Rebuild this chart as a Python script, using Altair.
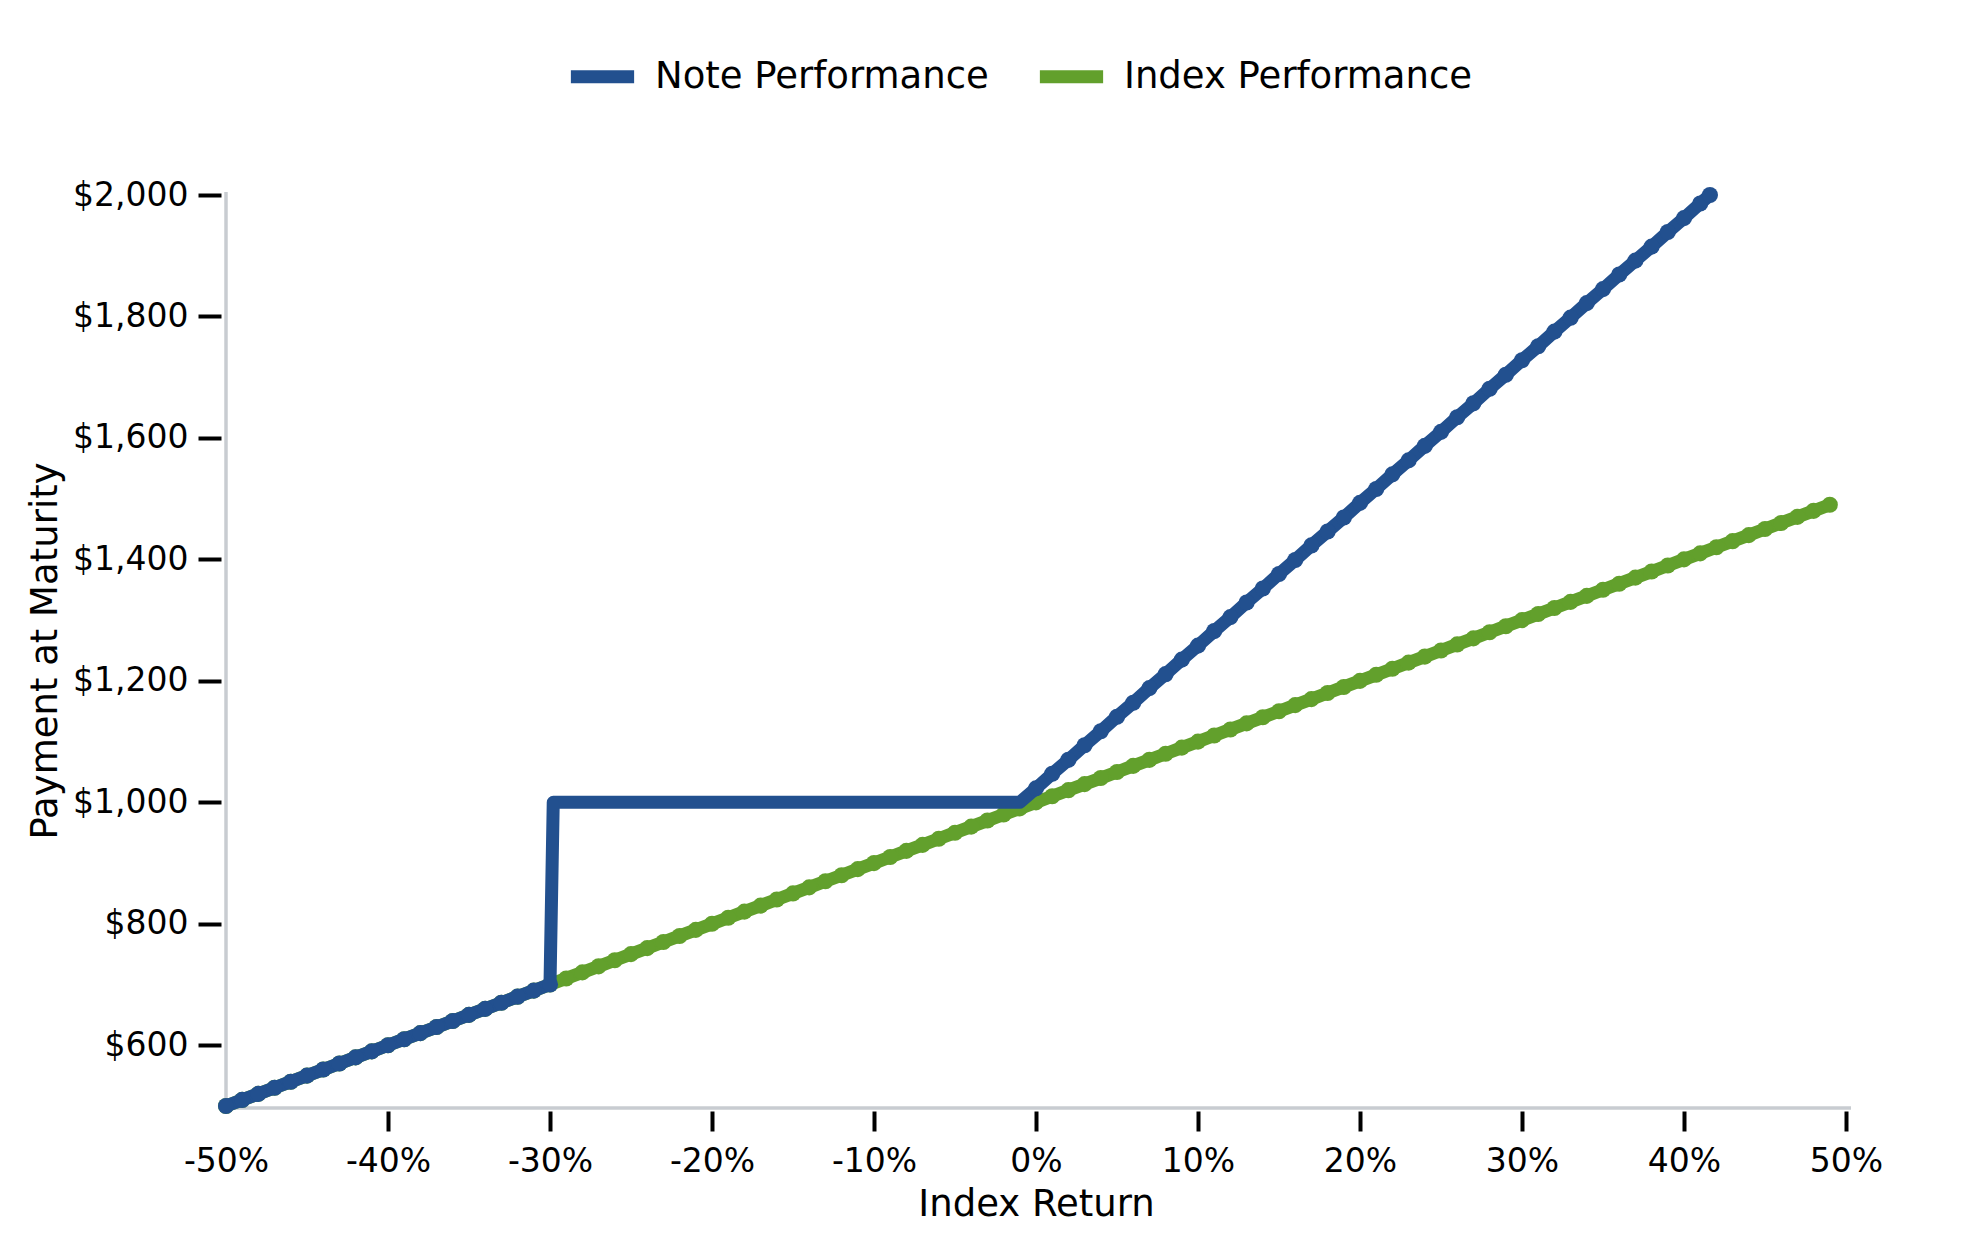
import altair as alt
import pandas as pd

# ---- data ----
index_x = [-50, -49, -48, -47, -46, -45, -44, -43, -42, -41, -40, -39, -38, -37, -36, -35, -34, -33, -32, -31,
           -30, -29, -28, -27, -26, -25, -24, -23, -22, -21, -20, -19, -18, -17, -16, -15, -14, -13, -12, -11,
           -10, -9, -8, -7, -6, -5, -4, -3, -2, -1, 0, 1, 2, 3, 4, 5, 6, 7, 8, 9,
           10, 11, 12, 13, 14, 15, 16, 17, 18, 19, 20, 21, 22, 23, 24, 25, 26, 27, 28, 29,
           30, 31, 32, 33, 34, 35, 36, 37, 38, 39, 40, 41, 42, 43, 44, 45, 46, 47, 48, 49]
index_y = [500, 510, 520, 530, 540, 550, 560, 570, 580, 590, 600, 610, 620, 630, 640, 650, 660, 670, 680, 690,
           700, 710, 720, 730, 740, 750, 760, 770, 780, 790, 800, 810, 820, 830, 840, 850, 860, 870, 880, 890,
           900, 910, 920, 930, 940, 950, 960, 970, 980, 990, 1000, 1010, 1020, 1030, 1040, 1050, 1060, 1070, 1080, 1090,
           1100, 1110, 1120, 1130, 1140, 1150, 1160, 1170, 1180, 1190, 1200, 1210, 1220, 1230, 1240, 1250, 1260, 1270, 1280, 1290,
           1300, 1310, 1320, 1330, 1340, 1350, 1360, 1370, 1380, 1390, 1400, 1410, 1420, 1430, 1440, 1450, 1460, 1470, 1480, 1490]

note_x = [-50, -49, -48, -47, -46, -45, -44, -43, -42, -41, -40, -39, -38, -37, -36, -35, -34, -33, -32, -31,
          -30, -29.8, -1, 0, 1, 2, 3, 4, 5, 6, 7, 8, 9,
          10, 11, 12, 13, 14, 15, 16, 17, 18, 19, 20, 21, 22, 23, 24, 25, 26, 27, 28, 29,
          30, 31, 32, 33, 34, 35, 36, 37, 38, 39, 40, 41, 41.6]
note_y = [500, 510, 520, 530, 540, 550, 560, 570, 580, 590, 600, 610, 620, 630, 640, 650, 660, 670, 680, 690,
          700, 1000, 1000, 1023, 1047, 1070, 1094, 1117, 1141, 1164, 1188, 1211, 1235,
          1258, 1282, 1305, 1329, 1352, 1376, 1399, 1423, 1446, 1469, 1493, 1516, 1540, 1563, 1587, 1610, 1634, 1657, 1681, 1704,
          1728, 1751, 1775, 1798, 1822, 1845, 1869, 1892, 1915, 1939, 1962, 1986, 2000]
# points drawn as markers (the flat part of the note has none)
note_marker = [True] * 21 + [False, False] + [True] * 43

series_names = ["Note Performance", "Index Performance"]
series_colors = ["#22508F", "#62A02C"]

x_ticks = [-50, -40, -30, -20, -10, 0, 10, 20, 30, 40, 50]
y_ticks = [600, 800, 1000, 1200, 1400, 1600, 1800, 2000]

W, H = 1620, 911
FONT = "DejaVu Sans"

df = pd.concat([
    pd.DataFrame({"ret": note_x, "pay": note_y, "series": series_names[0], "mk": note_marker}),
    pd.DataFrame({"ret": index_x, "pay": index_y, "series": series_names[1], "mk": True}),
], ignore_index=True)

xscale = alt.Scale(domain=[-50, 50], nice=False, zero=False)
yscale = alt.Scale(domain=[500, 2000], nice=False, zero=False)
cscale = alt.Scale(domain=series_names, range=series_colors)

xaxis = alt.Axis(
    values=x_ticks, labelExpr="datum.value + '%'", domain=False, grid=False, offset=5,
    tickSize=20, tickWidth=4,
    tickColor={"condition": {"test": "datum.value === -50", "value": "transparent"}, "value": "#000000"},
    labelFont=FONT, labelFontSize=33, labelColor="#000000", labelPadding=14, labelFlush=False,
    title="Index Return", titleFont=FONT, titleFontSize=37, titleFontWeight="normal",
    titleColor="#000000", titlePadding=8,
)
yaxis = alt.Axis(
    values=y_ticks, format="$,.0f", domain=False, grid=False, offset=5,
    tickSize=23, tickWidth=4, tickColor="#000000",
    labelFont=FONT, labelFontSize=33, labelColor="#000000", labelPadding=10,
    title="Payment at Maturity", titleFont=FONT, titleFontSize=37, titleFontWeight="normal",
    titleColor="#000000", titlePadding=8,
)

frame = pd.DataFrame({"k": [0]})
left_dom = alt.Chart(frame).mark_rule(color="#C8CCD1", strokeWidth=3.5).encode(
    x=alt.value(0), y=alt.value(-3), y2=alt.value(H + 2))
bottom_dom = alt.Chart(frame).mark_rule(color="#C8CCD1", strokeWidth=3.5).encode(
    x=alt.value(-1), x2=alt.value(W + 5), y=alt.value(H + 2))

base = alt.Chart(df)

def series_layers(name):
    sub = base.transform_filter(alt.datum.series == name)
    line = sub.mark_line(strokeWidth=13, strokeCap="round", strokeJoin="round").encode(
        x=alt.X("ret:Q", scale=xscale, axis=xaxis),
        y=alt.Y("pay:Q", scale=yscale, axis=yaxis),
        color=alt.Color("series:N", scale=cscale, legend=alt.Legend(
            title=None, orient="none", legendX=338, legendY=-157, direction="horizontal",
            symbolType="stroke", symbolStrokeWidth=13, symbolSize=4000,
            labelFont=FONT, labelFontSize=37, labelColor="#000000", labelOffset=14,
            columnPadding=24, labelLimit=600,
        )),
        order="ret:Q",
    )
    pts = sub.transform_filter(alt.datum.mk).mark_circle(size=260, opacity=1).encode(
        x=alt.X("ret:Q", scale=xscale),
        y=alt.Y("pay:Q", scale=yscale),
        fill=alt.Fill("series:N", scale=cscale, legend=None),
    )
    return [line, pts]

layers = [left_dom, bottom_dom] + series_layers(series_names[1]) + series_layers(series_names[0])

chart = alt.layer(*layers).properties(
    width=W, height=H,
    autosize=alt.AutoSizeParams(type="none"),
    padding={"left": 218, "top": 187, "right": 110, "bottom": 130},
    background="white",
).configure_view(stroke=None)

chart.save("out.html", embed_options={"renderer": "svg", "actions": False})
